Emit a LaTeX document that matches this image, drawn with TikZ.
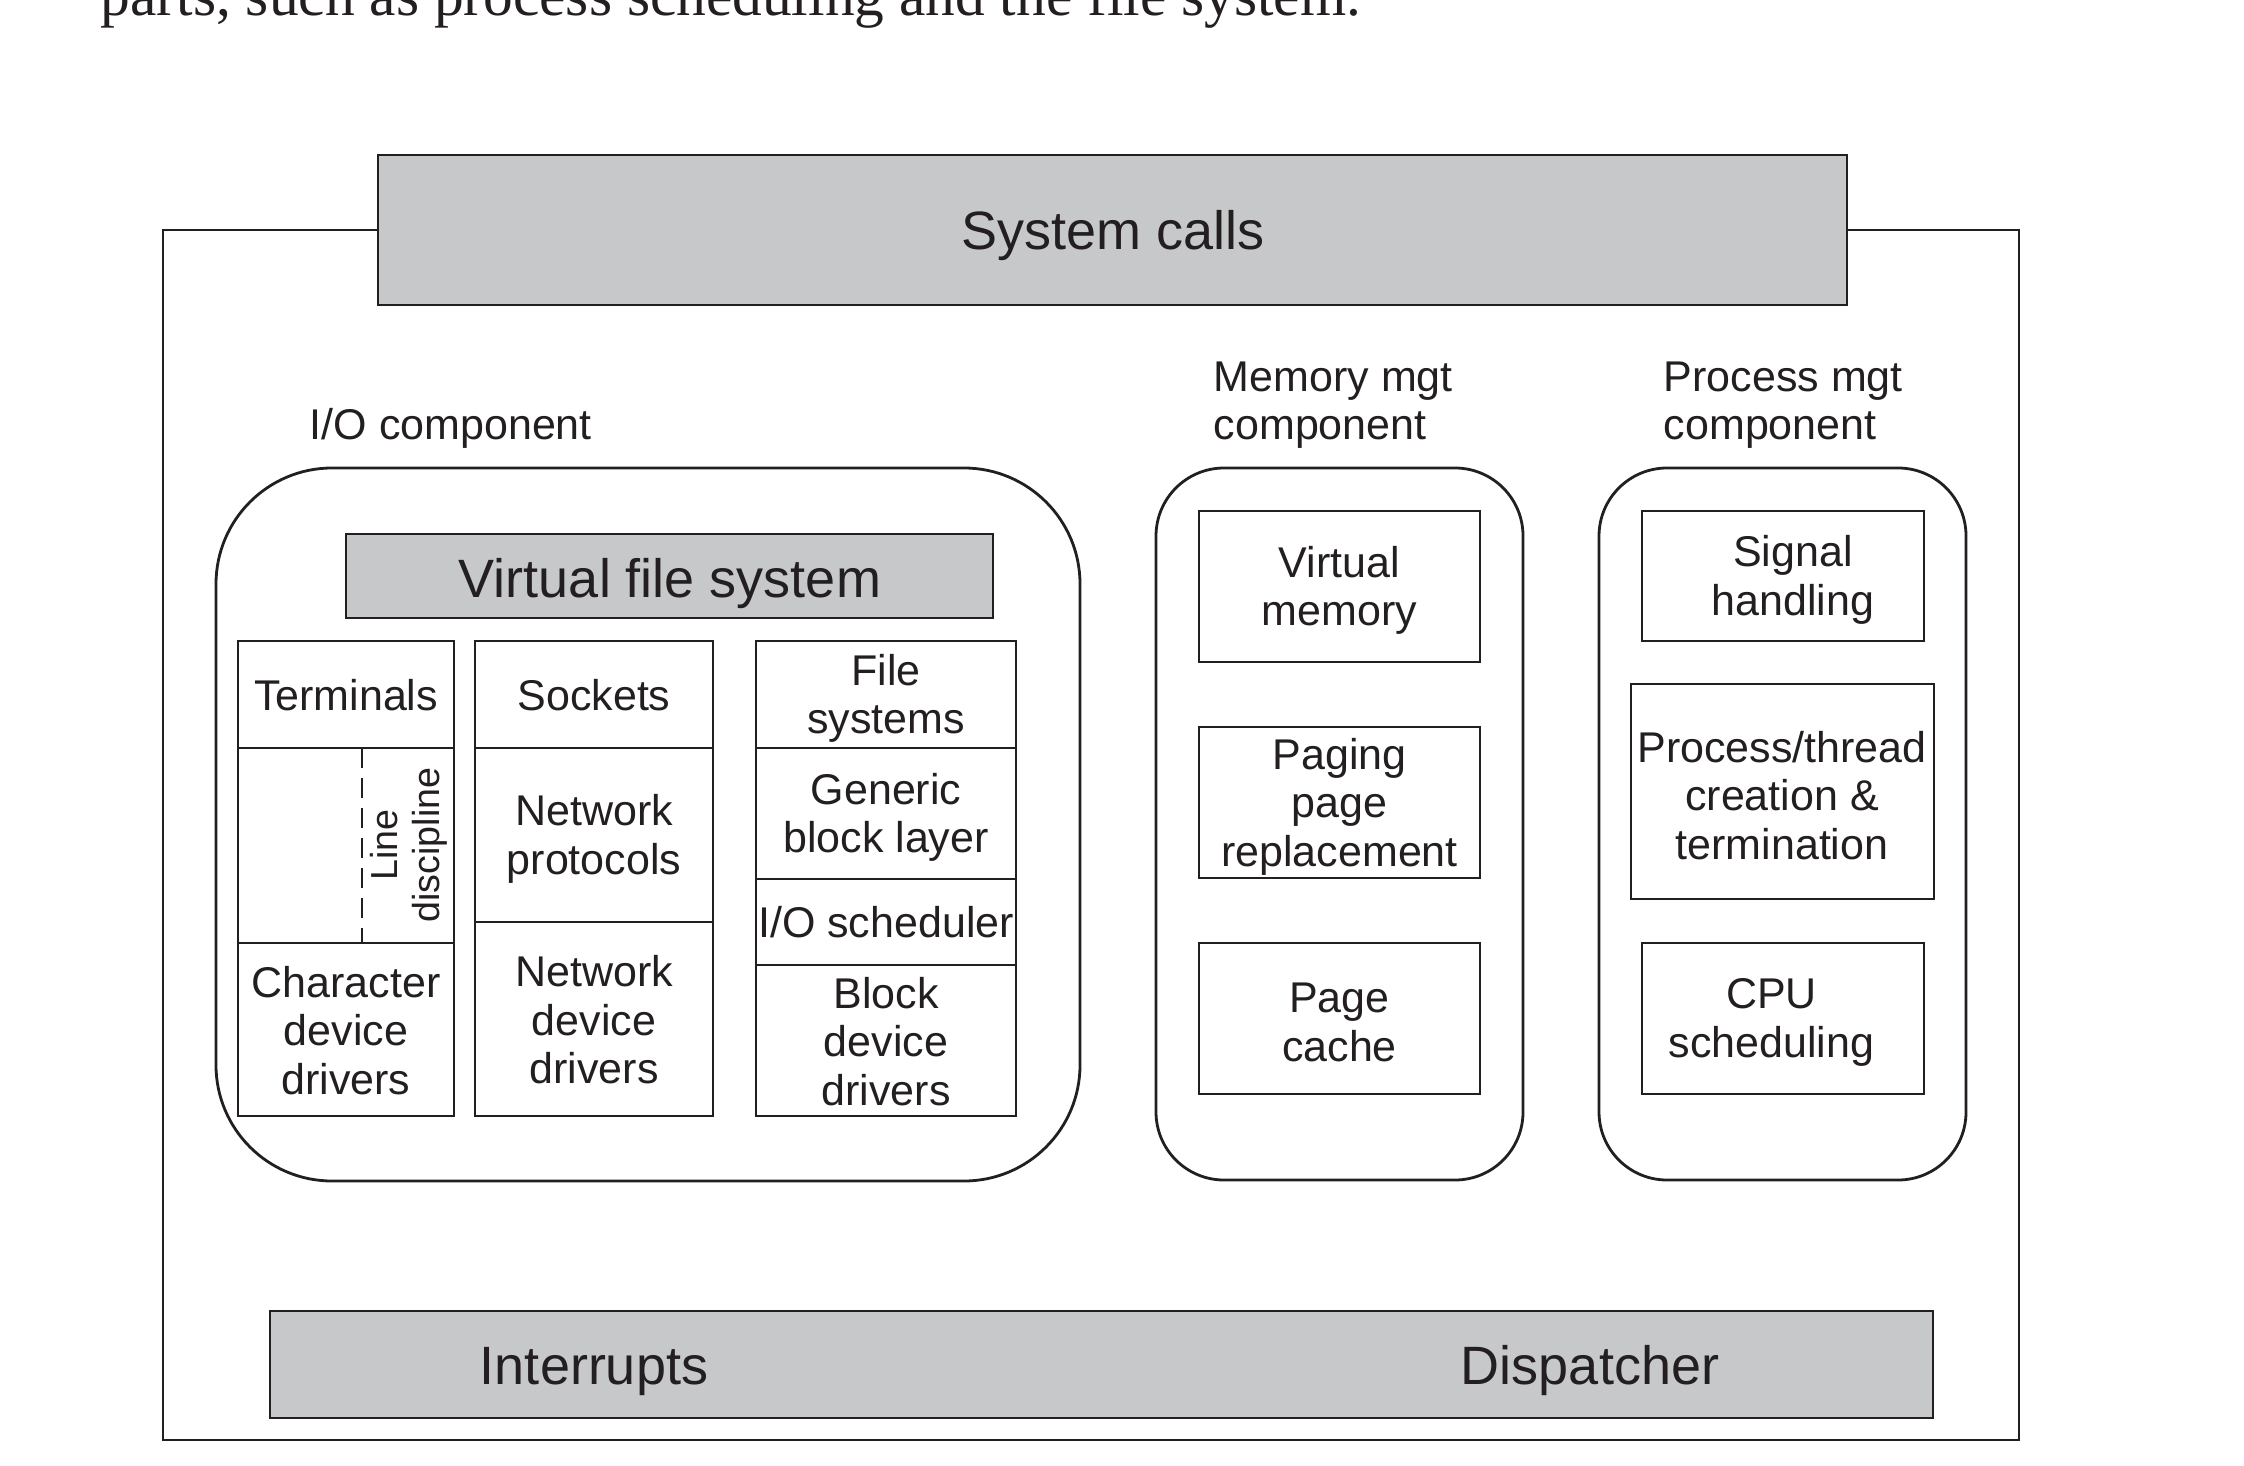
\documentclass[tikz,border=0pt]{standalone}
\usepackage{fontspec}
\setmainfont{Liberation Sans}
\newfontfamily\serifp{Liberation Serif}
\definecolor{boxgray}{RGB}{199,200,202}
\definecolor{ink}{RGB}{35,31,32}
\tikzset{
  frame/.style={draw=ink, line width=0.7pt},
  graybox/.style={frame, fill=boxgray},
  txt/.style={text=ink, align=center, inner sep=0pt, font=\fontsize{10.75pt}{12.1pt}\selectfont},
  multitxt/.style={txt, yshift=-1pt},
  bigtxt/.style={txt, font=\fontsize{13.5pt}{16pt}\selectfont},
  smalltxt/.style={txt, font=\fontsize{9.4pt}{10.4pt}\selectfont},
  ioround/.style={frame, rounded corners=29pt},
  compround/.style={frame, rounded corners=17pt},
  dashline/.style={draw=ink, line width=0.7pt, dash pattern=on 5pt off 2.5pt}
}
\begin{document}
\begin{tikzpicture}[x=0.25pt,y=-0.25pt]
\useasboundingbox (0,0) rectangle (2244,1465);
\clip (0,0) rectangle (2244,1465);
\fill[white] (0,0) rectangle (2244,1465);

% cut-off paragraph line at top (cut off in the reference as well)
\node[anchor=base west, inner sep=0pt, text=ink, font=\serifp\fontsize{14.85pt}{18pt}\selectfont] (para) at (100,16) {parts, such as process scheduling and the file system.};

% outer frame and system calls
\draw[frame] (163,230) rectangle (2019,1440);
\draw[graybox] (378,155) rectangle (1847,305);
\node[bigtxt, anchor=base] (syscalls) at (1113,250) {System calls};

% I/O component
\node[txt, anchor=base west] (iolbl) at (309,440) {I/O component};
\draw[ioround] (216,468) rectangle (1080,1181);
\draw[graybox] (346,534) rectangle (993,618);
\node[bigtxt, anchor=base] (vfs) at (670,597) {Virtual file system};

% column 1
\draw[frame] (238,641) rectangle (454,748);
\draw[frame] (238,748) rectangle (454,943);
\draw[frame] (238,943) rectangle (454,1116);
\draw[dashline] (362,748) -- (362,943);
\node[txt] (term) at (346,695.5) {Terminals};
\node[smalltxt, rotate=90] (linedisc) at (409,845) {Line\\discipline};
\node[multitxt] (chardrv) at (346,1026.5) {Character\\device\\drivers};

% column 2
\draw[frame] (475,641) rectangle (713,748);
\draw[frame] (475,748) rectangle (713,922);
\draw[frame] (475,922) rectangle (713,1116);
\node[txt] (sock) at (594,695.5) {Sockets};
\node[multitxt] (netprot) at (594,835) {Network\\protocols};
\node[multitxt] (netdrv) at (594,1016) {Network\\device\\drivers};

% column 3
\draw[frame] (756,641) rectangle (1016,748);
\draw[frame] (756,748) rectangle (1016,879);
\draw[frame] (756,879) rectangle (1016,965);
\draw[frame] (756,965) rectangle (1016,1116);
\node[multitxt] (fsys) at (886,694.5) {File\\systems};
\node[multitxt] (gbl) at (886,813.5) {Generic\\block layer};
\node[txt] (iosched) at (886,922) {I/O scheduler};
\node[multitxt] (blkdrv) at (886,1037.5) {Block\\device\\drivers};

% memory management
\node[txt, anchor=base west, align=left] (memlbl1) at (1213,392) {Memory mgt};
\node[txt, anchor=base west, align=left] (memlbl2) at (1213,440) {component};
\draw[compround] (1156,468) rectangle (1523,1180);
\draw[frame] (1199,511) rectangle (1480,662);
\draw[frame] (1199,727) rectangle (1480,878);
\draw[frame] (1199,943) rectangle (1480,1094);
\node[multitxt] (vmem) at (1339.5,586.5) {Virtual\\memory};
\node[multitxt] (paging) at (1339.5,802.5) {Paging\\page\\replacement};
\node[multitxt] (pcache) at (1339.5,1018.5) {Page\\cache};

% process management
\node[txt, anchor=base west, align=left] (proclbl1) at (1663,392) {Process mgt};
\node[txt, anchor=base west, align=left] (proclbl2) at (1663,440) {component};
\draw[compround] (1599,468) rectangle (1966,1180);
\draw[frame] (1642,511) rectangle (1924,641);
\draw[frame] (1631,684) rectangle (1934,899);
\draw[frame] (1642,943) rectangle (1924,1094);
\node[multitxt] (signal) at (1793,576) {Signal\\handling};
\node[multitxt] (pthread) at (1782,791.5) {Process/thread\\creation \&\\termination};
\node[multitxt] (cpusched) at (1771.5,1018.5) {CPU\\scheduling};

% interrupts / dispatcher bar
\draw[graybox] (270,1311) rectangle (1933,1418);
\node[bigtxt, anchor=base] (intr) at (594,1384) {Interrupts};
\node[bigtxt, anchor=base] (disp) at (1590,1384) {Dispatcher};
\end{tikzpicture}
\end{document}
